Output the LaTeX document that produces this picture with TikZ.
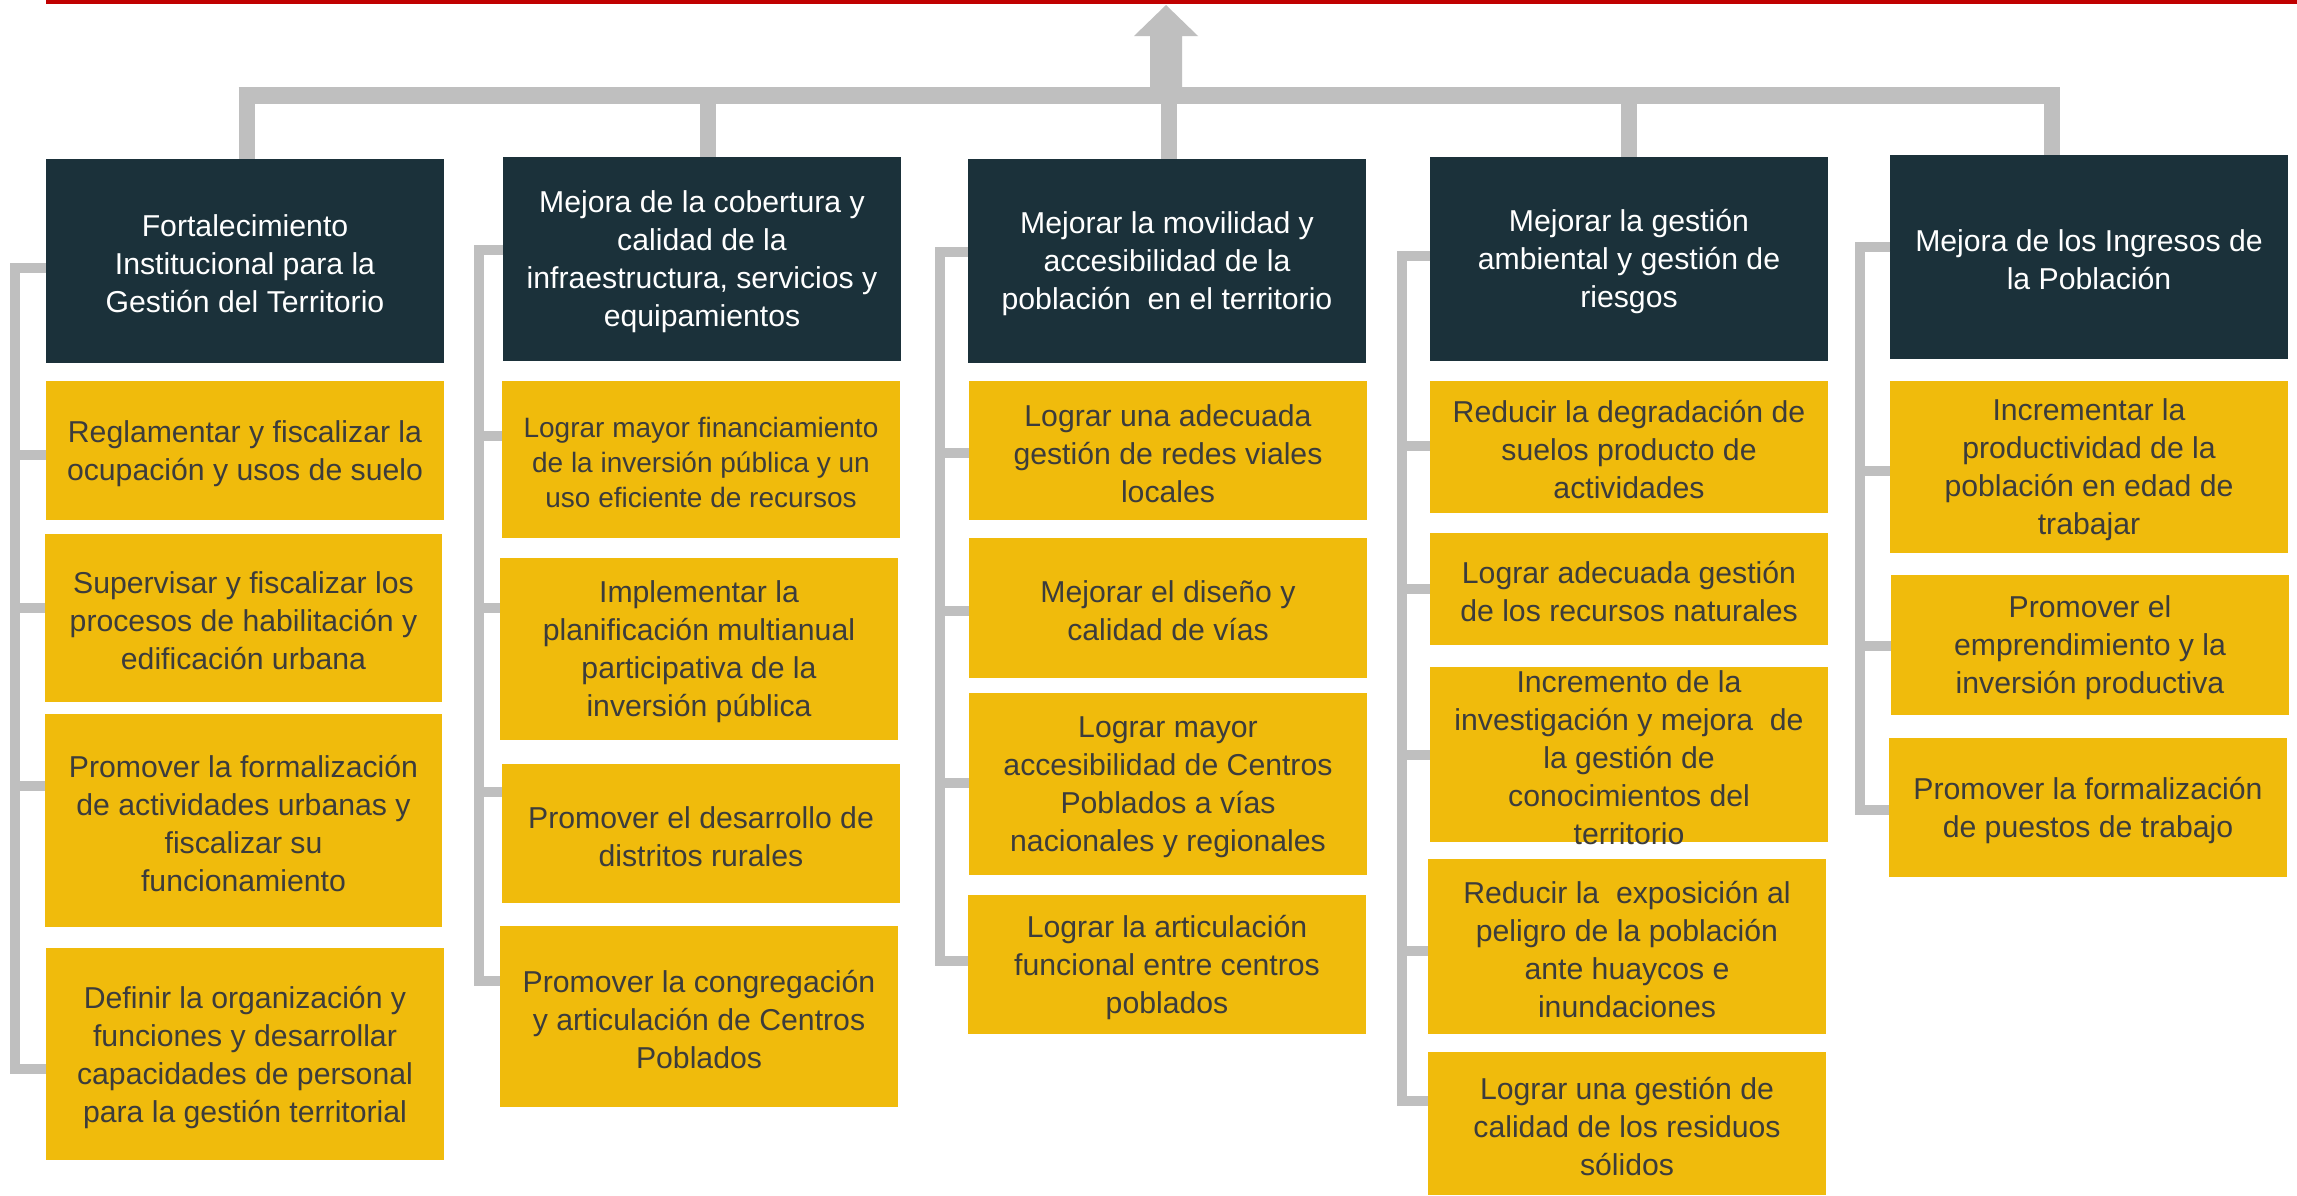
\documentclass[tikz,border=0pt]{standalone}
\usepackage{fontspec}
\setmainfont{Liberation Sans}
\definecolor{hdark}{HTML}{1B313A}
\definecolor{ygold}{HTML}{F0BB0C}
\definecolor{cgray}{HTML}{BFBFBF}
\definecolor{tgray}{HTML}{3C3C3C}
\definecolor{rline}{HTML}{C00000}
\newcommand\mkbox[7]{%
  \pgfmathsetmacro\bw{#5-#3}\pgfmathsetmacro\bh{#6-#4}%
  \pgfmathsetmacro\bx{(#3+#5)/2}\pgfmathsetmacro\by{(#4+#6)/2}%
  \node[#2, minimum width=\bw pt, minimum height=\bh pt] (#1) at (\bx,\by) {};%
  \node[#2 text, yshift=-3pt] at (#1.center) {#7};}
\begin{document}
\begin{tikzpicture}[x=1pt,y=-1pt,
  hbox/.style={fill=hdark, draw=none, inner sep=0pt, outer sep=0pt},
  hbox text/.style={text=white, align=center, inner sep=0pt, font=\fontsize{30.2}{38}\selectfont},
  ybox/.style={fill=ygold, draw=none, inner sep=0pt, outer sep=0pt},
  ybox text/.style={text=tgray, align=center, inner sep=0pt, font=\fontsize{30.2}{38}\selectfont},
  ysm/.style={fill=ygold, draw=none, inner sep=0pt, outer sep=0pt},
  ysm text/.style={text=tgray, align=center, inner sep=0pt, font=\fontsize{28}{35}\selectfont},
  spine/.style={draw=cgray, line width=10pt, line join=miter},
  bar/.style={draw=cgray, line width=17pt},
  drop/.style={draw=cgray, line width=16pt}]
\useasboundingbox (0,0) rectangle (2297,1195);
\fill[white] (0,0) rectangle (2297,1195);
% red line
\fill[rline] (46,0) rectangle (2297,4);
% column 1
\mkbox{h1}{hbox}{46}{159}{444}{363}{Fortalecimiento\\Institucional para la\\Gestión del Territorio}
\mkbox{y11}{ybox}{46}{381}{444}{520}{Reglamentar y fiscalizar la\\ocupación y usos de suelo}
\mkbox{y12}{ybox}{45}{534}{442}{702}{Supervisar y fiscalizar los\\procesos de habilitación y\\edificación urbana}
\mkbox{y13}{ybox}{45}{714}{442}{927}{Promover la formalización\\de actividades urbanas y\\fiscalizar su\\funcionamiento}
\mkbox{y14}{ybox}{46}{948}{444}{1160}{Definir la organización y\\funciones y desarrollar\\capacidades de personal\\para la gestión territorial}
% column 2
\mkbox{h2}{hbox}{503}{157}{901}{361}{Mejora de la cobertura y\\calidad de la\\infraestructura, servicios y\\equipamientos}
\mkbox{y21}{ysm}{502}{381}{900}{538}{Lograr mayor financiamiento\\de la inversión pública y un\\uso eficiente de recursos}
\mkbox{y22}{ybox}{500}{558}{898}{740}{Implementar la\\planificación multianual\\participativa de la\\inversión pública}
\mkbox{y23}{ybox}{502}{764}{900}{903}{Promover el desarrollo de\\distritos rurales}
\mkbox{y24}{ybox}{500}{926}{898}{1107}{Promover la congregación\\y articulación de Centros\\Poblados}
% column 3
\mkbox{h3}{hbox}{968}{159}{1366}{363}{Mejorar la movilidad y\\accesibilidad de la\\población\ \ en el territorio}
\mkbox{y31}{ybox}{969}{381}{1367}{520}{Lograr una adecuada\\gestión de redes viales\\locales}
\mkbox{y32}{ybox}{969}{538}{1367}{678}{Mejorar el diseño y\\calidad de vías}
\mkbox{y33}{ybox}{969}{693}{1367}{875}{Lograr mayor\\accesibilidad de Centros\\Poblados a vías\\nacionales y regionales}
\mkbox{y34}{ybox}{968}{895}{1366}{1034}{Lograr la articulación\\funcional entre centros\\poblados}
% column 4
\mkbox{h4}{hbox}{1430}{157}{1828}{361}{Mejorar la gestión\\ambiental y gestión de\\riesgos}
\mkbox{y41}{ybox}{1430}{381}{1828}{513}{Reducir la degradación de\\suelos producto de\\actividades}
\mkbox{y42}{ybox}{1430}{533}{1828}{645}{Lograr adecuada gestión\\de los recursos naturales}
\mkbox{y43}{ybox}{1430}{667}{1828}{842}{Incremento de la\\investigación y mejora\ \ de\\la gestión de\\conocimientos del\\territorio}
\mkbox{y44}{ybox}{1428}{859}{1826}{1034}{Reducir la\ \ exposición al\\peligro de la población\\ante huaycos e\\inundaciones}
\mkbox{y45}{ybox}{1428}{1052}{1826}{1195}{Lograr una gestión de\\calidad de los residuos\\sólidos}
% column 5
\mkbox{h5}{hbox}{1890}{155}{2288}{359}{Mejora de los Ingresos de\\la Población}
\mkbox{y51}{ybox}{1890}{381}{2288}{553}{Incrementar la\\productividad de la\\población en edad de\\trabajar}
\mkbox{y52}{ybox}{1891}{575}{2289}{715}{Promover el\\emprendimiento y la\\inversión productiva}
\mkbox{y53}{ybox}{1889}{738}{2287}{877}{Promover la formalización\\de puestos de trabajo}
% top bar, drops and arrow
\draw[bar] (238.5,95.5) -- (2059.5,95.5);
\coordinate (d1) at (246.5,95.5);
\coordinate (d2) at (707.5,95.5);
\coordinate (d3) at (1168.5,95.5);
\coordinate (d4) at (1628.5,95.5);
\coordinate (d5) at (2051.5,95.5);
\draw[drop] (d1) -- (d1 |- h1.north);
\draw[drop] (d2) -- (d2 |- h2.north);
\draw[drop] (d3) -- (d3 |- h3.north);
\draw[drop] (d4) -- (d4 |- h4.north);
\draw[drop] (d5) -- (d5 |- h5.north);
\fill[cgray] (1150,96) -- (1150,36) -- (1134,36) -- (1166,5) -- (1198,36) -- (1182,36) -- (1182,96) -- cycle;
% spines column 1
\coordinate (s1t) at (15,268); \coordinate (s1b) at (15,1069);
\coordinate (s1a) at (15,455); \coordinate (s1c) at (15,608); \coordinate (s1d) at (15,786);
\draw[spine] (h1.west |- s1t) -- (s1t) -- (s1b) -- (y14.west |- s1b);
\draw[spine] (s1a) -- (y11.west |- s1a);
\draw[spine] (s1c) -- (y12.west |- s1c);
\draw[spine] (s1d) -- (y13.west |- s1d);
% column 2
\coordinate (s2t) at (479,250); \coordinate (s2b) at (479,981);
\coordinate (s2a) at (479,436); \coordinate (s2c) at (479,608); \coordinate (s2d) at (479,792);
\draw[spine] (h2.west |- s2t) -- (s2t) -- (s2b) -- (y24.west |- s2b);
\draw[spine] (s2a) -- (y21.west |- s2a);
\draw[spine] (s2c) -- (y22.west |- s2c);
\draw[spine] (s2d) -- (y23.west |- s2d);
% column 3
\coordinate (s3t) at (939.5,252); \coordinate (s3b) at (939.5,961);
\coordinate (s3a) at (939.5,453); \coordinate (s3c) at (939.5,611); \coordinate (s3d) at (939.5,783);
\draw[spine] (h3.west |- s3t) -- (s3t) -- (s3b) -- (y34.west |- s3b);
\draw[spine] (s3a) -- (y31.west |- s3a);
\draw[spine] (s3c) -- (y32.west |- s3c);
\draw[spine] (s3d) -- (y33.west |- s3d);
% column 4
\coordinate (s4t) at (1402,256); \coordinate (s4b) at (1402,1101);
\coordinate (s4a) at (1402,446); \coordinate (s4c) at (1402,589); \coordinate (s4d) at (1402,755); \coordinate (s4e) at (1402,951);
\draw[spine] (h4.west |- s4t) -- (s4t) -- (s4b) -- (y45.west |- s4b);
\draw[spine] (s4a) -- (y41.west |- s4a);
\draw[spine] (s4c) -- (y42.west |- s4c);
\draw[spine] (s4d) -- (y43.west |- s4d);
\draw[spine] (s4e) -- (y44.west |- s4e);
% column 5
\coordinate (s5t) at (1860,247); \coordinate (s5b) at (1860,810);
\coordinate (s5a) at (1860,471); \coordinate (s5c) at (1860,646);
\draw[spine] (h5.west |- s5t) -- (s5t) -- (s5b) -- (y53.west |- s5b);
\draw[spine] (s5a) -- (y51.west |- s5a);
\draw[spine] (s5c) -- (y52.west |- s5c);
\end{tikzpicture}
\end{document}
